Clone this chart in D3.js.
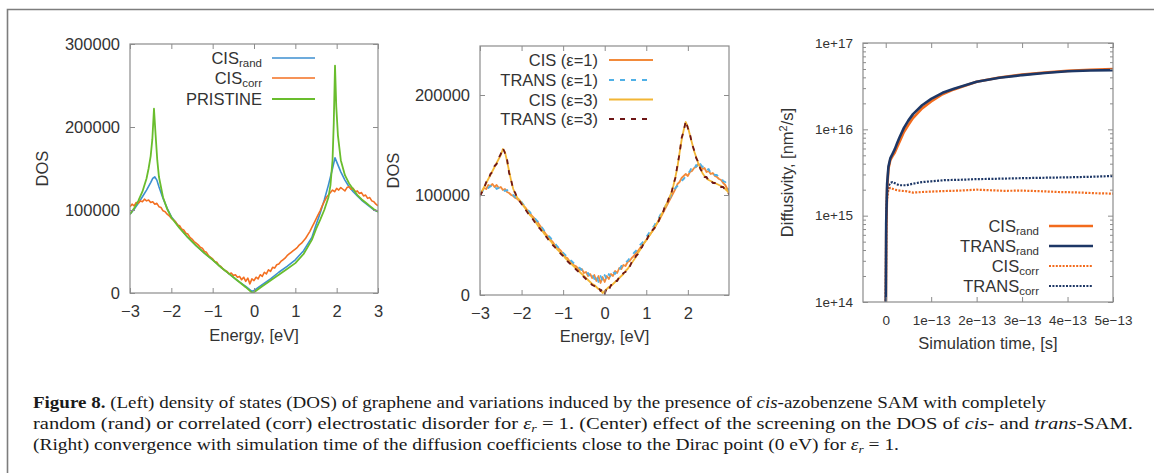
<!DOCTYPE html>
<html>
<head>
<meta charset="utf-8">
<script src="https://cdn.jsdelivr.net/npm/d3@7"></script>
<style>
body{margin:0;background:#fff;}
text{font-family:"Liberation Sans",Arial,sans-serif;fill:#333;}
.caption text{font-family:"Liberation Serif","Times New Roman",serif;fill:#1a1a1a;}
</style>
</head>
<body>
<div id="fig"></div>
<script>
// ---------------- data ----------------
// energy grid (eV) shared by the noisy DOS curves
const energyGrid = [
    -3,-2.95,-2.9,-2.85,-2.8,-2.75,-2.7,-2.65,-2.6,-2.55,
    -2.5,-2.45,-2.4,-2.35,-2.3,-2.25,-2.2,-2.15,-2.1,-2.05,
    -2,-1.95,-1.9,-1.85,-1.8,-1.75,-1.7,-1.65,-1.6,-1.55,
    -1.5,-1.45,-1.4,-1.35,-1.3,-1.25,-1.2,-1.15,-1.1,-1.05,
    -1,-0.95,-0.9,-0.85,-0.8,-0.75,-0.7,-0.65,-0.6,-0.55,
    -0.5,-0.45,-0.4,-0.35,-0.3,-0.25,-0.2,-0.15,-0.1,-0.05,
    0,0.05,0.1,0.15,0.2,0.25,0.3,0.35,0.4,0.45,
    0.5,0.55,0.6,0.65,0.7,0.75,0.8,0.85,0.9,0.95,
    1,1.05,1.1,1.15,1.2,1.25,1.3,1.35,1.4,1.45,
    1.5,1.55,1.6,1.65,1.7,1.75,1.8,1.85,1.9,1.95,
    2,2.05,2.1,2.15,2.2,2.25,2.3,2.35,2.4,2.45,
    2.5,2.55,2.6,2.65,2.7,2.75,2.8,2.85,2.9,2.95,
    3];

// left panel, DOS in thousands
const pristine = [[-3,95],[-2.9,102],[-2.8,111],[-2.7,122],[-2.6,138],[-2.55,150],[-2.5,165],[-2.46,185],
    [-2.42,222],[-2.38,190],[-2.34,160],[-2.3,140],[-2.2,115],[-2.1,101],[-2,91],[-1.8,78],[-1.6,67],
    [-1.4,57],[-1.2,48],[-1,40],[-0.8,31],[-0.6,23],[-0.4,15],[-0.2,7],[-0.04,0],[0,1],[0.2,8],[0.4,15],
    [0.6,22],[0.8,29],[1,36],[1.2,47],[1.4,64],[1.5,77],[1.6,88],[1.7,100],[1.8,115],[1.85,130],[1.9,160],
    [1.93,205],[1.96,274],[1.99,225],[2.03,190],[2.1,160],[2.2,142],[2.3,132],[2.4,125],[2.5,118],
    [2.6,113],[2.7,109],[2.8,105],[2.9,101],[3,98]];
const cisRandDos = [[-3,95],[-2.9,101],[-2.8,108],[-2.7,116],[-2.6,124],[-2.5,133],[-2.45,138],[-2.4,140],
    [-2.35,136],[-2.3,128],[-2.2,114],[-2.1,102],[-2,92],[-1.8,79],[-1.6,67],[-1.4,57],[-1.2,48],[-1,40],
    [-0.8,31],[-0.6,23],[-0.4,15],[-0.2,8],[-0.05,2],[0,3],[0.2,10],[0.4,17],[0.6,25],[0.8,32],[1,40],
    [1.2,51],[1.4,67],[1.5,82],[1.6,96],[1.7,112],[1.8,130],[1.9,150],[1.96,163],[2,158],[2.1,146],
    [2.2,136],[2.3,128],[2.4,122],[2.5,117],[2.6,112],[2.7,108],[2.8,104],[2.9,100],[3,98]];
const cisCorrDos = [
    104,107,105,109,108,111,110,113,111,112,
    109,110,107,108,104,103,99,98,95,93,
    90,88,86,82,81,77,76,72,71,67,
    65,62,60,58,55,54,50,49,45,43,
    41,38,37,33,32,29,27,26,23,24,
    21,22,19,20,16,19,14,18,11,17,
    15,19,17,22,20,25,23,28,26,31,
    30,34,35,38,40,42,45,47,49,51,
    53,55,58,60,63,66,70,74,79,84,
    89,94,99,105,110,115,118,121,124,122,
    126,124,127,125,123,127,128,125,126,122,
    123,120,121,117,118,114,115,111,110,107,
    105];

// centre panel, DOS in thousands
const cisEps1 = [
    100,104,107,106,110,109,111,108,110,107,
    108,105,106,103,102,100,99,97,96,94,
    92,89,87,84,82,79,77,74,72,69,
    66,63,60,58,55,53,50,48,46,44,
    41,38,37,34,33,30,29,27,25,26,
    22,23,19,21,17,20,14,19,12,18,
    13,19,16,21,19,24,22,27,26,30,
    29,33,34,37,39,42,44,47,50,52,
    55,58,61,64,67,71,74,78,82,86,
    90,94,98,102,106,111,113,117,119,121,
    119,123,124,127,128,131,129,126,127,123,
    124,121,122,119,118,116,115,112,110,106,
    102];
const transEps1 = [
    101,103,106,108,107,109,107,109,106,107,
    105,106,104,105,103,101,100,98,96,95,
    93,90,88,85,83,80,78,75,73,70,
    67,64,62,59,57,54,52,49,47,45,
    42,40,38,36,34,32,30,28,27,25,
    24,21,22,18,21,16,20,13,19,14,
    20,15,21,18,23,21,26,25,29,29,
    33,34,37,39,42,44,47,50,52,55,
    58,61,64,67,70,74,77,81,84,88,
    92,96,100,103,107,109,112,114,116,119,
    121,124,128,126,130,127,131,128,129,125,
    126,122,123,120,120,117,117,114,113,110,
    104];
const cisEps3 = [
    100,104,108,112,116,120,124,128,132,136,
    140,146,143,134,124,114,106,101,97,95,
    92,89,86,83,80,78,75,72,69,67,
    64,61,59,56,54,51,49,46,44,42,
    40,37,35,33,31,29,27,25,23,21,
    19,17,15,13,11,10,8,6,5,2,
    4,6,8,9,11,13,15,17,19,21,
    24,26,29,32,35,38,42,45,49,52,
    55,58,61,64,68,71,75,79,83,88,
    92,97,102,109,118,128,142,155,165,173,
    168,160,152,144,138,132,127,122,119,117,
    115,114,113,112,111,110,109,108,106,104,
    101];
const transEps3 = [
    99,103,107,113,115,121,123,129,131,137,
    141,147,142,136,122,115,105,102,96,94,
    91,88,85,82,79,77,74,71,68,66,
    63,60,58,55,53,50,48,45,43,41,
    39,36,34,32,30,28,26,24,22,20,
    18,16,14,12,10,9,7,8,4,6,
    1,7,5,10,10,14,14,18,18,22,
    23,27,28,33,34,39,41,46,48,53,
    54,59,60,65,67,72,74,80,82,89,
    91,98,101,110,117,130,141,157,164,174,
    167,161,151,145,137,133,126,123,118,118,
    114,115,112,112,110,110,108,108,105,104,
    100];

// right panel: [time in units of 1e-13 s, diffusivity nm^2/s]
const cisRand = [[0,5e13],[0.01,6e14],[0.03,2e15],[0.06,3.5e15],[0.1,4.4e15],[0.15,4.9e15],[0.2,5.4e15],
    [0.25,6.2e15],[0.3,7.1e15],[0.4,9.3e15],[0.5,1.13e16],[0.6,1.35e16],[0.8,1.75e16],[1,2.1e16],
    [1.25,2.55e16],[1.5,2.9e16],[2,3.55e16],[2.5,3.98e16],[3,4.3e16],[3.5,4.55e16],[4,4.75e16],
    [4.5,4.9e16],[5,5.0e16]];
const transRand = [[0,5e13],[0.01,8e14],[0.03,2.3e15],[0.06,3.7e15],[0.1,4.6e15],[0.15,5.2e15],[0.2,5.9e15],
    [0.25,6.9e15],[0.3,8.0e15],[0.4,1.04e16],[0.5,1.27e16],[0.6,1.5e16],[0.8,1.9e16],[1,2.25e16],
    [1.25,2.65e16],[1.5,2.95e16],[2,3.55e16],[2.5,3.95e16],[3,4.25e16],[3.5,4.5e16],[4,4.7e16],
    [4.5,4.8e16],[5,4.85e16]];
const cisCorr = [[0,5e13],[0.01,8e14],[0.03,1.6e15],[0.06,2.0e15],[0.1,2.1e15],[0.15,2.05e15],[0.2,2.0e15],
    [0.3,1.95e15],[0.45,1.92e15],[0.6,1.85e15],[0.8,1.88e15],[1,1.9e15],[1.3,1.93e15],[1.6,1.95e15],
    [2,2.0e15],[2.3,1.97e15],[2.6,1.94e15],[3,1.95e15],[3.4,1.92e15],[3.8,1.88e15],[4.2,1.86e15],
    [4.6,1.82e15],[5,1.8e15]];
const transCorr = [[0,5e13],[0.01,9e14],[0.03,1.8e15],[0.06,2.2e15],[0.1,2.4e15],[0.15,2.45e15],[0.22,2.35e15],
    [0.3,2.25e15],[0.45,2.25e15],[0.6,2.35e15],[0.8,2.45e15],[1,2.5e15],[1.3,2.58e15],[1.6,2.6e15],
    [2,2.65e15],[2.5,2.68e15],[3,2.72e15],[3.5,2.75e15],[4,2.78e15],[4.5,2.82e15],[5,2.88e15]];

// ticks
const leftXTicks = [-3,-2,-1,0,1,2,3];
const leftYTicks = [0,100000,200000,300000];
const midXTicks = [-3,-2,-1,0,1,2];
const midYTicks = [0,100000,200000];
const rightXTicks = [0,1,2,3,4,5];
const rightXLabels = ["0","1e\u221213","2e\u221213","3e\u221213","4e\u221213","5e\u221213"];
const rightYTicks = [1e14,1e15,1e16,1e17];
const rightYLabels = ["1e+14","1e+15","1e+16","1e+17"];
const minorMult = [2,3,4,5,6,7,8,9];

// ---------------- drawing ----------------
const svg = d3.select("#fig").append("svg").attr("width", 1154).attr("height", 473);
svg.append("rect").attr("width", 1154).attr("height", 473).attr("fill", "#fff");
svg.append("path").attr("d", "M7.5,473V9.5H1154").attr("fill", "none")
    .attr("stroke", "#7d7d7d").attr("stroke-width", 1.6);

class line_panel{
    constructor(box, x, y, id){
        var self = this;
        self.box = box;
        self.x = x.range([box.left, box.left + box.width]);
        self.y = y.range([box.top + box.height, box.top]);
        self.g = svg.append("g");
        svg.append("clipPath").attr("id", id).append("rect")
            .attr("x", box.left).attr("y", box.top)
            .attr("width", box.width).attr("height", box.height);
        self.plot = self.g.append("g").attr("clip-path", `url(#${id})`);
    }

    axis(gen, tr, size){
        var self = this;
        return self.g.append("g")
            .attr("transform", tr)
            .call(gen.tickSizeOuter(0))
            .attr("font-size", size)
            .attr("font-family", null)
            .call(g => g.select(".domain").remove())
            .call(g => g.selectAll(".tick line").attr("stroke", "#8c8c8c"));
    }

    draw_axes(xTicks, xFmt, yTicks, yFmt, size, xPad){
        var self = this;
        let b = self.box;
        let bottom = b.top + b.height, right = b.left + b.width;
        self.axis(d3.axisBottom(self.x).tickValues(xTicks).tickFormat(xFmt).tickSizeInner(-5).tickPadding(xPad), `translate(0,${bottom})`, size);
        self.axis(d3.axisTop(self.x).tickValues(xTicks).tickFormat("").tickSizeInner(-5), `translate(0,${b.top})`, size);
        self.axis(d3.axisLeft(self.y).tickValues(yTicks).tickFormat(yFmt).tickSizeInner(-5).tickPadding(10), `translate(${b.left},0)`, size);
        self.axis(d3.axisRight(self.y).tickValues(yTicks).tickFormat("").tickSizeInner(-5), `translate(${right},0)`, size);
    }

    frame(){
        var self = this;
        let b = self.box;
        self.g.append("rect").attr("x", b.left).attr("y", b.top)
            .attr("width", b.width).attr("height", b.height)
            .attr("fill", "none").attr("stroke", "#8c8c8c").attr("stroke-width", 1.2);
    }

    add_line(points, s){
        var self = this;
        let line = d3.line().x(d => self.x(d[0])).y(d => self.y(d[1]));
        self.plot.append("path")
            .attr("d", line(points))
            .attr("fill", "none")
            .attr("stroke", s.color)
            .attr("stroke-width", s.width)
            .attr("stroke-dasharray", s.dash || null)
            .attr("stroke-linejoin", "round");
    }

    legend(entries, textX, lineX1, lineX2, rowY){
        var self = this;
        entries.forEach((e, i) => {
            let y = rowY[i];
            let t = self.g.append("text").attr("x", textX).attr("y", y + 6)
                .attr("text-anchor", "end").attr("font-size", 16.5);
            t.append("tspan").text(e.label);
            if(e.sub) t.append("tspan").attr("dy", 3).attr("font-size", 11.5).text(e.sub);
            self.g.append("line").attr("x1", lineX1).attr("x2", lineX2).attr("y1", y).attr("y2", y)
                .attr("stroke", e.color).attr("stroke-width", e.width)
                .attr("stroke-dasharray", e.dash || null);
        });
    }

    titles(xt, xtY, yt, ytX){
        var self = this;
        let b = self.box;
        self.g.append("text").attr("x", b.left + b.width / 2).attr("y", xtY)
            .attr("text-anchor", "middle").attr("font-size", 16.5).text(xt);
        self.g.append("text")
            .attr("transform", `translate(${ytX},${b.top + b.height / 2}) rotate(-90)`)
            .attr("text-anchor", "middle").attr("dy", "0.35em").attr("font-size", 16.5)
            .html(yt);
    }
}

const onGrid = vals => energyGrid.map((e, i) => [e, vals[i] * 1000]);
const kilo = pts => pts.map(d => [d[0], d[1] * 1000]);
const fmtInt = d3.format("d");

// left panel
const left = new line_panel({left: 130, top: 44, width: 248, height: 249},
    d3.scaleLinear().domain([-3, 3]), d3.scaleLinear().domain([0, 300000]), "clipL");
const leftStyles = [
    {label: "CIS", sub: "rand", color: "#3c8fd0", width: 1.6},
    {label: "CIS", sub: "corr", color: "#f36f21", width: 1.6},
    {label: "PRISTINE", color: "#69bd2d", width: 1.8}];
left.add_line(kilo(cisRandDos), leftStyles[0]);
left.add_line(onGrid(cisCorrDos), leftStyles[1]);
left.add_line(kilo(pristine), leftStyles[2]);
left.frame();
left.draw_axes(leftXTicks, fmtInt, leftYTicks, fmtInt, 16.5, 12);
left.legend(leftStyles, 262, 272, 315, [58, 78, 99]);
left.titles("Energy, [eV]", 341, "DOS", 42);

// centre panel
const mid = new line_panel({left: 480, top: 46, width: 249, height: 249},
    d3.scaleLinear().domain([-3, 2.99]), d3.scaleLinear().domain([0, 249000]), "clipM");
const midStyles = [
    {label: "CIS (\u03b5=1)", color: "#f28a3a", width: 1.8},
    {label: "TRANS (\u03b5=1)", color: "#4fb0e6", width: 1.8, dash: "5,6"},
    {label: "CIS (\u03b5=3)", color: "#f2b535", width: 1.8},
    {label: "TRANS (\u03b5=3)", color: "#6e1616", width: 1.8, dash: "5,6"}];
mid.add_line(onGrid(cisEps1), midStyles[0]);
mid.add_line(onGrid(transEps1), midStyles[1]);
mid.add_line(onGrid(cisEps3), midStyles[2]);
mid.add_line(onGrid(transEps3), midStyles[3]);
mid.frame();
mid.draw_axes(midXTicks, fmtInt, midYTicks, fmtInt, 16.5, 12);
mid.legend(midStyles, 598, 609, 653, [60, 80, 99.5, 119]);
mid.titles("Energy, [eV]", 342, "DOS", 393);

// right panel
const right = new line_panel({left: 863, top: 43, width: 250, height: 259},
    d3.scaleLinear().domain([-0.5, 5]), d3.scaleLog().domain([1e14, 1e17]), "clipR");
const rightStyles = [
    {label: "CIS", sub: "rand", color: "#f26b1d", width: 2.6},
    {label: "TRANS", sub: "rand", color: "#1d3766", width: 2.6},
    {label: "CIS", sub: "corr", color: "#f26b1d", width: 2.2, dash: "2,1.4"},
    {label: "TRANS", sub: "corr", color: "#1d3766", width: 2.2, dash: "2,1.4"}];
right.add_line(cisCorr, rightStyles[2]);
right.add_line(transCorr, rightStyles[3]);
right.add_line(cisRand, rightStyles[0]);
right.add_line(transRand, rightStyles[1]);
right.frame();
right.draw_axes(rightXTicks, (d, i) => rightXLabels[i], rightYTicks, (d, i) => rightYLabels[i], 13.5, 13);
const minorTicks = rightYTicks.slice(0, 3).flatMap(p => minorMult.map(m => p * m));
right.axis(d3.axisLeft(right.y).tickValues(minorTicks).tickFormat("").tickSizeInner(-3), `translate(863,0)`, 13.5);
right.axis(d3.axisRight(right.y).tickValues(minorTicks).tickFormat("").tickSizeInner(-3), `translate(1113,0)`, 13.5);
right.legend(rightStyles, 1039, 1049, 1093, [226, 246, 266, 286]);
right.titles("Simulation time, [s]", 349, "Diffusivity, [nm<tspan dy='-6' font-size='11'>2</tspan><tspan dy='6'>/s]</tspan>", 787);

// ---------------- caption ----------------
const cap = svg.append("g").attr("class", "caption").attr("font-size", 16);
const capX = 33;
const epsR = t => {
    t.append("tspan").attr("font-style", "italic").text("\u03b5");
    t.append("tspan").attr("font-style", "italic").attr("font-size", 11).attr("dy", 3).text("r");
    return t.append("tspan").attr("dy", -3);
};
let l1 = cap.append("text").attr("x", capX).attr("y", 408)
    .attr("textLength", 1046 - capX).attr("lengthAdjust", "spacingAndGlyphs");
l1.append("tspan").attr("font-weight", "bold").text("Figure 8.");
l1.append("tspan").text(" (Left) density of states (DOS) of graphene and variations induced by the presence of ");
l1.append("tspan").attr("font-style", "italic").text("cis");
l1.append("tspan").text("-azobenzene SAM with completely");

let l2 = cap.append("text").attr("x", capX).attr("y", 429)
    .attr("textLength", 1133 - capX).attr("lengthAdjust", "spacingAndGlyphs");
l2.append("tspan").text("random (rand) or correlated (corr) electrostatic disorder for ");
epsR(l2).text(" = 1. (Center) effect of the screening on the DOS of ");
l2.append("tspan").attr("font-style", "italic").text("cis");
l2.append("tspan").text("- and ");
l2.append("tspan").attr("font-style", "italic").text("trans");
l2.append("tspan").text("-SAM.");

let l3 = cap.append("text").attr("x", capX).attr("y", 450)
    .attr("textLength", 899 - capX).attr("lengthAdjust", "spacingAndGlyphs");
l3.append("tspan").text("(Right) convergence with simulation time of the diffusion coefficients close to the Dirac point (0 eV) for ");
epsR(l3).text(" = 1.");
</script>
</body>
</html>
